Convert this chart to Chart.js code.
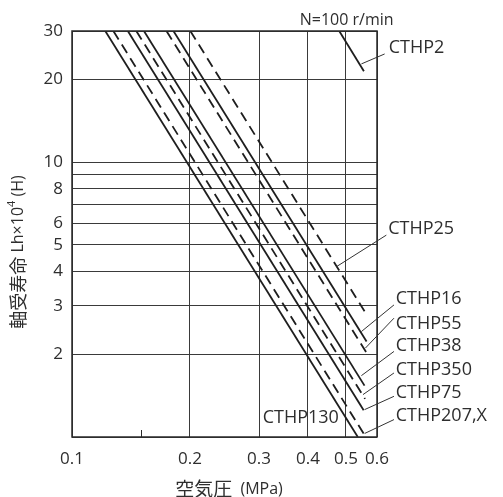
<!DOCTYPE html>
<html>
<head>
<meta charset="utf-8">
<script src="https://cdn.jsdelivr.net/npm/chart.js@4.4.0/dist/chart.umd.min.js"></script>
<style>
  html, body { margin: 0; padding: 0; background: #fff; }
  #wrap { width: 503px; height: 497px; }
</style>
</head>
<body>
<div id="wrap"><canvas id="chart" width="503" height="497"></canvas></div>
<script>
/* ── DATA (log-log) ── */
const series = ['CTHP130', 'CTHP207,X', 'CTHP75', 'CTHP350', 'CTHP38', 'CTHP55', 'CTHP16', 'CTHP25', 'CTHP2'];
const dashed = [false, true, false, true, false, true, false, true, false];
// start of each line (pressure MPa, life) and where it stops
const xStart = [0.1216, 0.1275, 0.1388, 0.1459, 0.1526, 0.1742, 0.1815, 0.2004, 0.4806];
const yStart = [30, 30, 30, 30, 30, 30, 30, 30, 30];
const xEnd   = [0.536, 0.5617, 0.5548, 0.5594, 0.5575, 0.5636, 0.5643, 0.5617, 0.5556];
const yEnd   = [1, 1, 1.251, 1.376, 1.538, 2.03, 2.226, 2.82, 21.4];

const xTicks  = [0.1, 0.15, 0.2, 0.3, 0.4, 0.5, 0.6];
const xLabels = ['0.1', '', '0.2', '0.3', '0.4', '0.5', '0.6'];
const yTicks  = [1, 2, 3, 4, 5, 6, 7, 8, 9, 10, 20, 30];
const yLabels = ['', '2', '3', '4', '5', '6', '', '8', '', '10', '20', '30'];

/* ── label placement (data units): text left/middle + leader line ── */
const labelX = [0.3065, 0.6697, 0.6697, 0.6697, 0.6697, 0.6697, 0.6697, 0.6408, 0.6427];
const labelY = [1.177, 1.197, 1.450, 1.750, 2.138, 2.58, 3.18, 5.705, 26.09];
const leaders = [
  null,
  [0.558, 1.030, 0.6629, 1.157],
  [0.558, 1.258, 0.6629, 1.406],
  [0.5525, 1.426, 0.6629, 1.710],
  [0.5474, 1.672, 0.6629, 2.048],
  [0.5604, 2.106, 0.6629, 2.706],
  [0.5474, 2.419, 0.6629, 3.024],
  [0.4726, 4.164, 0.6339, 5.426],
  [0.5474, 22.77, 0.6276, 24.75],
];
const speedNote = { text: 'N=100 r/min', x: 0.502, y: 32.7 };

const LINE = '#1e1e1e';
const TEXT = '#2e2e2e';
const LATIN = '"Open Sans", "Noto Sans", sans-serif';
const CJK = '"Noto Sans CJK JP", sans-serif';

const datasets = series.map((name, i) => ({
  label: name,
  data: [{ x: xStart[i], y: yStart[i] }, { x: xEnd[i], y: yEnd[i] }],
  borderColor: LINE,
  borderWidth: 1.8,
  borderDash: dashed[i] ? [10, 6] : [],
  pointRadius: 0,
  fill: false,
  tension: 0,
}));

// draws rich text (list of pieces) centred on cx,cy, optionally rotated
function drawPieces(ctx, pieces, cx, cy, rot) {
  ctx.save();
  ctx.translate(cx, cy);
  if (rot) ctx.rotate(rot);
  ctx.textBaseline = 'middle';
  ctx.textAlign = 'left';
  let total = 0;
  pieces.forEach(p => { ctx.font = p.font; total += ctx.measureText(p.t).width; });
  let x = -total / 2;
  pieces.forEach(p => {
    ctx.font = p.font;
    ctx.fillText(p.t, x, p.dy || 0);
    x += ctx.measureText(p.t).width;
  });
  ctx.restore();
}

const decor = {
  id: 'decor',
  afterDatasetsDraw(chart) {
    const { ctx, chartArea: a, scales: { x, y } } = chart;
    ctx.save();
    // plot frame
    ctx.strokeStyle = '#2a2a2a';
    ctx.lineWidth = 1.5;
    ctx.strokeRect(a.left, a.top, a.right - a.left, a.bottom - a.top);

    // short inner tick for the unlabeled x tick (0.15)
    ctx.lineWidth = 1;
    xTicks.forEach((v, i) => {
      if (xLabels[i] !== '') return;
      const px = Math.round(x.getPixelForValue(v)) + 0.5;
      ctx.beginPath();
      ctx.moveTo(px, a.bottom);
      ctx.lineTo(px, a.bottom - 7);
      ctx.stroke();
    });

    // leader lines
    ctx.strokeStyle = '#333';
    ctx.lineWidth = 1;
    leaders.forEach(l => {
      if (!l) return;
      ctx.beginPath();
      ctx.moveTo(x.getPixelForValue(l[0]), y.getPixelForValue(l[1]));
      ctx.lineTo(x.getPixelForValue(l[2]), y.getPixelForValue(l[3]));
      ctx.stroke();
    });

    // series labels
    ctx.fillStyle = TEXT;
    ctx.textBaseline = 'middle';
    ctx.textAlign = 'left';
    ctx.font = '18px ' + LATIN;
    series.forEach((name, i) => {
      ctx.fillText(name, x.getPixelForValue(labelX[i]), y.getPixelForValue(labelY[i]));
    });

    ctx.font = '16px ' + LATIN;
    ctx.textAlign = 'center';
    ctx.fillText(speedNote.text, x.getPixelForValue(speedNote.x), y.getPixelForValue(speedNote.y));
    ctx.restore();

    // axis titles
    ctx.fillStyle = TEXT;
    drawPieces(ctx, [
      { t: '空気圧', font: '19px ' + CJK },
      { t: '  (MPa)', font: '16px ' + LATIN },
    ], 229, 489, 0);
    drawPieces(ctx, [
      { t: '軸受寿命', font: '18px ' + CJK },
      { t: ' Lh×10', font: '16px ' + LATIN },
      { t: '4', font: '11px ' + LATIN, dy: -6 },
      { t: ' (H)', font: '16px ' + LATIN },
    ], 18, 252, -Math.PI / 2);
  },
};

const gridColor = '#3a3a3a';

new Chart(document.getElementById('chart'), {
  type: 'line',
  data: { datasets },
  plugins: [decor],
  options: {
    responsive: false,
    animation: false,
    layout: { padding: { top: 31, right: 126, left: 0, bottom: 0 } },
    plugins: { legend: { display: false }, tooltip: { enabled: false } },
    scales: {
      x: {
        type: 'logarithmic',
        min: 0.1, max: 0.6,
        afterBuildTicks: s => { s.ticks = xTicks.map(v => ({ value: v })); },
        afterFit: s => { s.height = 60; },
        ticks: {
          autoSkip: false, maxRotation: 0, padding: 12, color: TEXT,
          font: { family: LATIN, size: 17 },
          callback: (v, i) => xLabels[i],
        },
        grid: {
          drawTicks: false, lineWidth: 1,
          color: c => (c.tick && xLabels[xTicks.indexOf(c.tick.value)] === '') ? 'rgba(0,0,0,0)' : gridColor,
        },
        border: { display: false },
      },
      y: {
        type: 'logarithmic',
        min: 1, max: 30,
        afterBuildTicks: s => { s.ticks = yTicks.map(v => ({ value: v })); },
        afterFit: s => { s.width = 72; },
        ticks: {
          autoSkip: false, padding: 9, color: TEXT,
          font: { family: LATIN, size: 17 },
          callback: (v, i) => yLabels[i],
        },
        grid: { drawTicks: false, lineWidth: 1, color: gridColor },
        border: { display: false },
      },
    },
  },
});
</script>
</body>
</html>
